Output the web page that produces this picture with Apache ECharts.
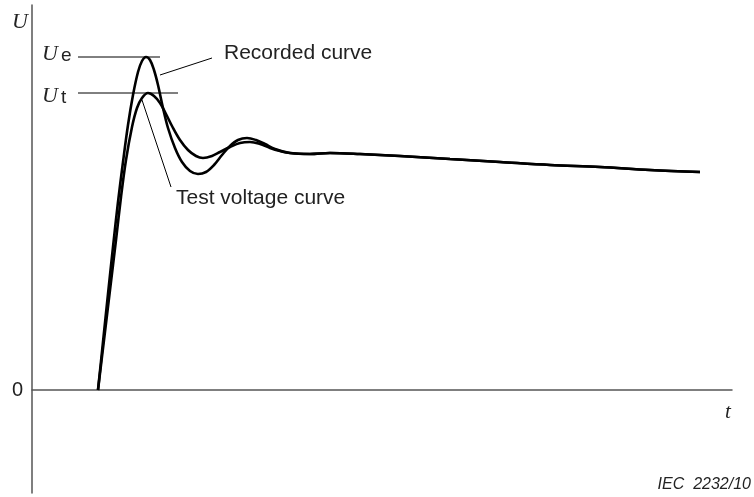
<!DOCTYPE html>
<html>
<head>
<meta charset="utf-8">
<script src="https://cdn.jsdelivr.net/npm/echarts@6/dist/echarts.min.js"></script>
<style>
  html, body { margin: 0; padding: 0; background: #fff; }
  #chart { width: 754px; height: 497px; }
</style>
</head>
<body>
<div id="chart"></div>
<script>
// Step response of the recorded voltage and the evaluated test voltage (time t, voltage U)
const recordedCurve = [
  [66, 0], [71, 48], [76, 96], [81, 143], [86, 188], [91, 228], [96, 265], [101, 295],
  [106, 318], [110, 329], [114, 333], [118, 330], [122, 320], [126, 305],
  [131, 282], [136, 262], [143, 242], [150, 228], [158, 219], [166, 216], [174, 218],
  [182, 225], [190, 235], [198, 244], [206, 250], [215, 252], [224, 250], [233, 246],
  [243, 241], [258, 237], [278, 236], [298, 237], [328, 236], [368, 234], [418, 231],
  [468, 228], [518, 225], [568, 223], [618, 220], [668, 218]
];
const testVoltageCurve = [
  [66, 0], [72, 50], [78, 100], [84, 150], [89, 193], [94, 230], [100, 263], [105, 282],
  [110, 292], [116, 297], [122, 294], [128, 287], [134, 276], [140, 264],
  [148, 250], [156, 240], [164, 234], [171, 232], [180, 234], [188, 238], [198, 243],
  [208, 247], [218, 248], [228, 246], [238, 242], [248, 239], [258, 237], [278, 236],
  [298, 237], [328, 236], [368, 234], [418, 231], [468, 228], [518, 225], [568, 223],
  [618, 220], [668, 218]
];
const yTickLabels = ['0'];

// Peak values: U_e of the recorded curve, U_t of the test voltage curve
const peakRecorded = Math.max(...recordedCurve.map(p => p[1]));
const peakTest = Math.max(...testVoltageCurve.map(p => p[1]));

const chart = echarts.init(document.getElementById('chart'), null, { renderer: 'canvas' });

const curveStyle = { color: '#000', width: 2.6 };
const thinStyle = { color: '#000', width: 1 };
const serifItalic = 'italic 22px "Liberation Serif", "Times New Roman", serif';
const sans = '"Liberation Sans", Arial, sans-serif';

chart.setOption({
  animation: false,
  backgroundColor: '#fff',
  grid: { left: 32, top: 5, width: 700, bottom: 4 },
  xAxis: {
    type: 'value', min: 0, max: 700,
    axisLine: { show: true, onZero: true, lineStyle: { color: '#555', width: 1.5 } },
    axisTick: { show: false }, axisLabel: { show: false }, splitLine: { show: false }
  },
  yAxis: {
    type: 'value', min: -103, max: 385, interval: 103,
    axisLine: { show: true, lineStyle: { color: '#555', width: 1.5 } },
    axisTick: { show: false }, splitLine: { show: false },
    axisLabel: {
      margin: 9, color: '#222', fontSize: 20, fontFamily: sans,
      formatter: v => (v === 0 ? yTickLabels[0] : '')
    }
  },
  series: [
    { type: 'line', data: recordedCurve, smooth: 0.35, symbol: 'none', lineStyle: curveStyle, z: 3 },
    { type: 'line', data: testVoltageCurve, smooth: 0.35, symbol: 'none', lineStyle: curveStyle, z: 3 },
    // level lines for U_e and U_t
    { type: 'line', data: [[46, peakRecorded], [128, peakRecorded]], symbol: 'none', lineStyle: thinStyle },
    { type: 'line', data: [[46, peakTest], [146, peakTest]], symbol: 'none', lineStyle: thinStyle },
    // leader lines to the curve labels
    { type: 'line', data: [[128, 315], [180, 332]], symbol: 'none', lineStyle: thinStyle },
    { type: 'line', data: [[110, 290], [139, 203]], symbol: 'none', lineStyle: thinStyle }
  ],
  graphic: [
    { type: 'text', left: 12, top: 11, style: { text: 'U', fill: '#222', font: serifItalic } },
    { type: 'text', left: 42, top: 43, style: { text: 'U', fill: '#222', font: serifItalic } },
    { type: 'text', left: 61, top: 46, style: { text: 'e', fill: '#222', font: '19px ' + sans } },
    { type: 'text', left: 42, top: 85, style: { text: 'U', fill: '#222', font: serifItalic } },
    { type: 'text', left: 61, top: 88, style: { text: 't', fill: '#222', font: '19px ' + sans } },
    { type: 'text', left: 224, top: 43, style: { text: 'Recorded curve', fill: '#222', font: '21px ' + sans } },
    { type: 'text', left: 176, top: 188, style: { text: 'Test voltage curve', fill: '#222', font: '21px ' + sans } },
    { type: 'text', left: 725, top: 402, style: { text: 't', fill: '#222', font: 'italic 21px "Liberation Serif", "Times New Roman", serif' } },
    { type: 'text', right: 3, top: 477, style: { text: 'IEC  2232/10', fill: '#222', font: 'italic 16px ' + sans } }
  ]
});
</script>
</body>
</html>
